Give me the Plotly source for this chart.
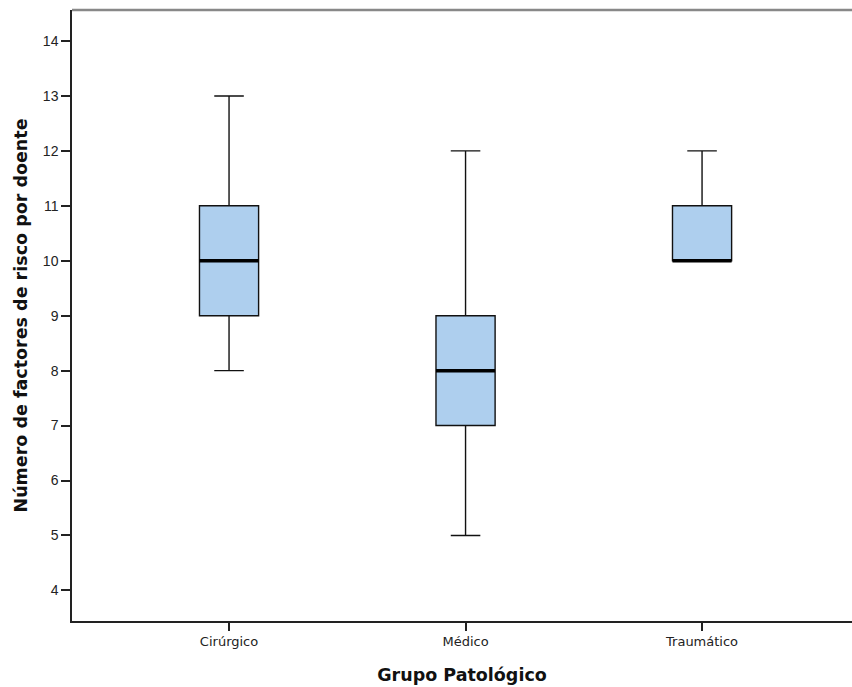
import plotly.graph_objects as go

categories = ["Cirúrgico", "Médico", "Traumático"]
lower_whisker = [8, 5, 10]
q1_values = [9, 7, 10]
median_values = [10, 8, 10]
q3_values = [11, 9, 11]
upper_whisker = [13, 12, 12]
y_ticks = list(range(4, 15))

positions = list(range(len(categories)))
box_width = 0.25

fig = go.Figure()
fig.add_trace(go.Box(
    x=positions,
    lowerfence=lower_whisker,
    q1=q1_values,
    median=median_values,
    q3=q3_values,
    upperfence=upper_whisker,
    width=box_width,
    whiskerwidth=0.5,
    fillcolor="#aecfee",
    line=dict(color="#111111", width=1.4),
    boxpoints=False,
    hoverinfo="skip",
    showlegend=False,
))

# thick median lines
for p, m in zip(positions, median_values):
    fig.add_trace(go.Scatter(
        x=[p - box_width / 2, p + box_width / 2], y=[m, m],
        mode="lines", line=dict(color="#000000", width=3.5),
        showlegend=False, hoverinfo="skip",
    ))

fig.update_layout(
    width=852, height=687,
    margin=dict(l=72, r=0, t=10, b=66),
    paper_bgcolor="white", plot_bgcolor="white",
    font=dict(family="DejaVu Sans", color="#222222"),
    showlegend=False,
    shapes=[dict(type="line", xref="paper", yref="paper", x0=0, x1=1, y0=1, y1=1,
                 line=dict(color="#888888", width=2.5))],
)
fig.update_xaxes(
    automargin=False,
    range=[-0.664, 2.634],
    tickmode="array", tickvals=positions, ticktext=categories,
    ticks="outside", ticklen=8, tickwidth=1.5, tickcolor="#222222",
    showline=True, linecolor="#222222", linewidth=1.5,
    showgrid=False, zeroline=False,
    tickfont=dict(family="DejaVu Sans", size=13, color="#222222"),
    title=dict(text="Grupo Patológico", standoff=20,
               font=dict(family="DejaVu Sans", size=17.5, color="#111111", weight="bold")),
)
fig.update_yaxes(
    automargin=False,
    range=[3.443, 14.564],
    tickmode="array", tickvals=y_ticks,
    ticks="outside", ticklen=9, tickwidth=1.5, tickcolor="#222222",
    showline=True, linecolor="#222222", linewidth=1.5,
    showgrid=False, zeroline=False,
    tickfont=dict(family="Liberation Sans", size=14, color="#222222"),
    title=dict(text="Número de factores de risco por doente", standoff=11,
               font=dict(family="DejaVu Sans", size=17.5, color="#111111", weight="bold")),
)

fig.write_html("out.html", config={"displayModeBar": False},
               post_script="document.body.style.margin='0';document.body.style.overflow='hidden';")
